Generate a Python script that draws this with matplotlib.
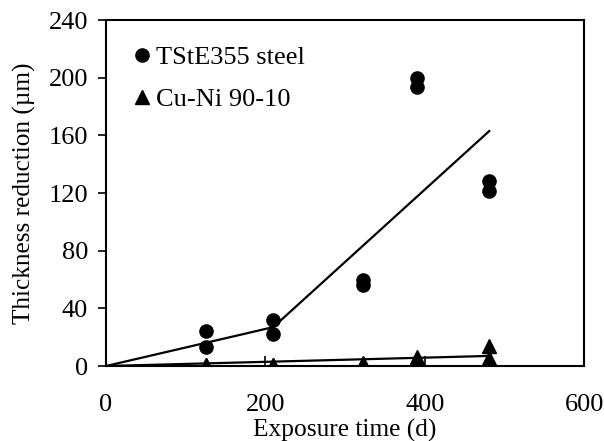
import matplotlib
matplotlib.use("Agg")
import matplotlib.pyplot as plt

plt.rcParams['font.family'] = ['Liberation Serif', 'DejaVu Serif']

# Data (exposure time in days, thickness reduction in µm)
steel_t = [125, 125, 210, 210, 322, 322, 390, 390, 481, 481]
steel_y = [24, 13, 32, 22.5, 60, 56.5, 200, 193.5, 128, 121.5]
cuni_t = [125, 125, 210, 210, 322, 322, 390, 390, 481, 481]
cuni_y = [0.5, 0.5, 0.5, 0.5, 2, 1.5, 6.5, 4.5, 14, 5.5]

steel_fit_t = [0, 210, 481]
steel_fit_y = [0, 27, 163]
cuni_fit_t = [0, 481]
cuni_fit_y = [0, 7]

xticks = [0, 200, 400, 600]
yticks = [0, 40, 80, 120, 160, 200, 240]

fig = plt.figure(figsize=(6.04, 4.41), dpi=100)
ax = fig.add_axes([0.1755, 0.170, 0.7915, 0.7846])

ax.plot(steel_fit_t, steel_fit_y, color='black', lw=1.6, zorder=2)
ax.plot(cuni_fit_t, cuni_fit_y, color='black', lw=1.6, zorder=2)
ax.plot(steel_t, steel_y, 'o', color='black', ms=9.5, ls='none', label='TStE355 steel', zorder=3)
ax.plot(cuni_t, cuni_y, '^', color='black', ms=9.5, ls='none', label='Cu-Ni 90-10', zorder=3)

ax.set_xlim(0, 600)
ax.set_ylim(0, 240)
ax.set_xticks(xticks)
ax.set_yticks(yticks)
ax.tick_params(axis='x', direction='in', length=7, width=1.2, pad=20, labelsize=19)
ax.tick_params(axis='y', direction='out', length=6, width=1.2, pad=7, labelsize=19)
for s in ax.spines.values():
    s.set_linewidth(1.5)

ax.set_xlabel('Exposure time (d)', fontsize=18.3, labelpad=2)
ax.set_ylabel('Thickness reduction (µm)', fontsize=18.2, labelpad=9)

ax.legend(loc='upper left', frameon=False, fontsize=19, handlelength=0.6,
          handletextpad=0.25, labelspacing=0.7, markerscale=1.0,
          borderaxespad=0.3, bbox_to_anchor=(0.0195, 0.979))

fig.savefig('out.png', dpi=100)
